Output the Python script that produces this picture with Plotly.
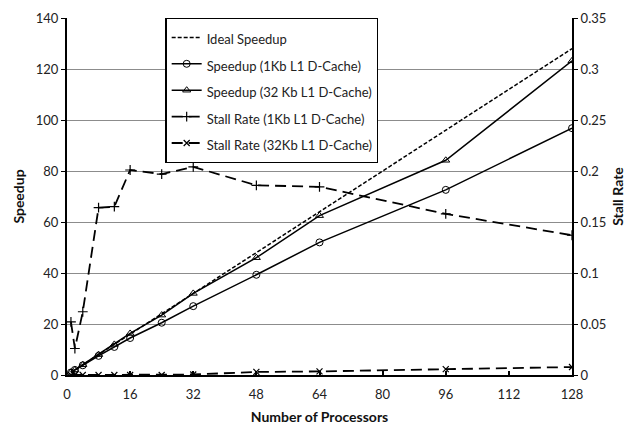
import plotly.graph_objects as go

processors = [1, 2, 4, 8, 12, 16, 24, 32, 48, 64, 96, 128]
ideal_speedup = [1, 2, 4, 8, 12, 16, 24, 32, 48, 64, 96, 128]
speedup_1kb = [1, 2, 3.8, 7.5, 11, 14.5, 20.5, 27, 39.3, 52, 72.6, 96.8]
speedup_32kb = [1, 2, 4, 8, 12, 16.3, 23.5, 32, 46, 62.5, 84.2, 123.2]
stall_1kb = [0.052, 0.026, 0.062, 0.164, 0.165, 0.201, 0.197, 0.204, 0.186, 0.1845, 0.158, 0.137]
stall_32kb = [0.0, 0.0, 0.0, 0.0, 0.0, 0.0, 0.0, 0.0005, 0.003, 0.0035, 0.0057, 0.0078]

FONT = "Lato"
def lg(t):
    return '<span style="font-size:13px">' + t + '</span>'

fig = go.Figure()
fig.add_trace(go.Scatter(x=processors, y=ideal_speedup, name=lg("Ideal Speedup"), mode="lines",
                         line=dict(color="black", width=1.5, dash="4px,2px")))
fig.add_trace(go.Scatter(x=processors, y=speedup_1kb, name=lg("Speedup (1Kb L1 D-Cache)"), mode="lines+markers",
                         line=dict(color="black", width=1.5),
                         marker=dict(symbol="circle-open", size=7, color="black", line=dict(width=1))))
fig.add_trace(go.Scatter(x=processors, y=speedup_32kb, name=lg("Speedup (32 Kb L1 D-Cache)"), mode="lines+markers",
                         line=dict(color="black", width=1.5),
                         marker=dict(symbol="triangle-up-open", size=7, color="black", line=dict(width=1))))
fig.add_trace(go.Scatter(x=processors, y=stall_1kb, name=lg("Stall Rate (1Kb L1 D-Cache)"), mode="lines+markers",
                         yaxis="y2",
                         line=dict(color="black", width=1.8, dash="11px,6px"),
                         marker=dict(symbol="cross-thin", size=7, color="black", line=dict(width=1.2, color="black"))))
fig.add_trace(go.Scatter(x=processors, y=stall_32kb, name=lg("Stall Rate (32Kb L1 D-Cache)"), mode="lines+markers",
                         yaxis="y2",
                         line=dict(color="black", width=1.8, dash="11px,6px"),
                         marker=dict(symbol="x-thin", size=6, color="black", line=dict(width=1.2, color="black"))))

fig.update_layout(
    width=634, height=433,
    margin=dict(l=67, r=54, t=10, b=57),
    paper_bgcolor="white", plot_bgcolor="white",
    font=dict(family=FONT, size=13, color="#222"),
    showlegend=True,
    legend=dict(x=0.195, y=1.0, xanchor="left", yanchor="top",
                bgcolor="white", bordercolor="black", borderwidth=1.2,
                font=dict(family=FONT, size=18, color="#222"),
                itemwidth=30, tracegroupgap=0),
    xaxis=dict(range=[0, 128], tickmode="array", tickvals=[0, 16, 32, 48, 64, 80, 96, 112, 128],
               showgrid=False, zeroline=False, showline=True, linecolor="black", linewidth=2,
               ticks="inside", ticklen=4, tickcolor="black", tickwidth=1.5,
               ticklabelstandoff=6,
               title=dict(text="<b>Number of Processors</b>", font=dict(size=14, family=FONT, color="#111"), standoff=12),
               tickfont=dict(size=13)),
    yaxis=dict(range=[0, 140], dtick=20, showgrid=True, gridcolor="#8c8c8c", gridwidth=1,
               zeroline=False, showline=True, linecolor="black", linewidth=2,
               ticks="outside", ticklen=4, tickcolor="black",
               title=dict(text="<b>Speedup</b>", font=dict(size=14, family=FONT, color="#111"), standoff=8),
               tickfont=dict(size=13)),
    yaxis2=dict(range=[0, 0.35], dtick=0.05, overlaying="y", side="right", showgrid=False,
                zeroline=False, showline=True, linecolor="black", linewidth=2,
                ticks="outside", ticklen=4, tickcolor="black",
                title=dict(text="<b>Stall Rate</b>", font=dict(size=14, family=FONT, color="#111"), standoff=8),
                tickfont=dict(size=13)),
)

fig.write_html("out.html")
